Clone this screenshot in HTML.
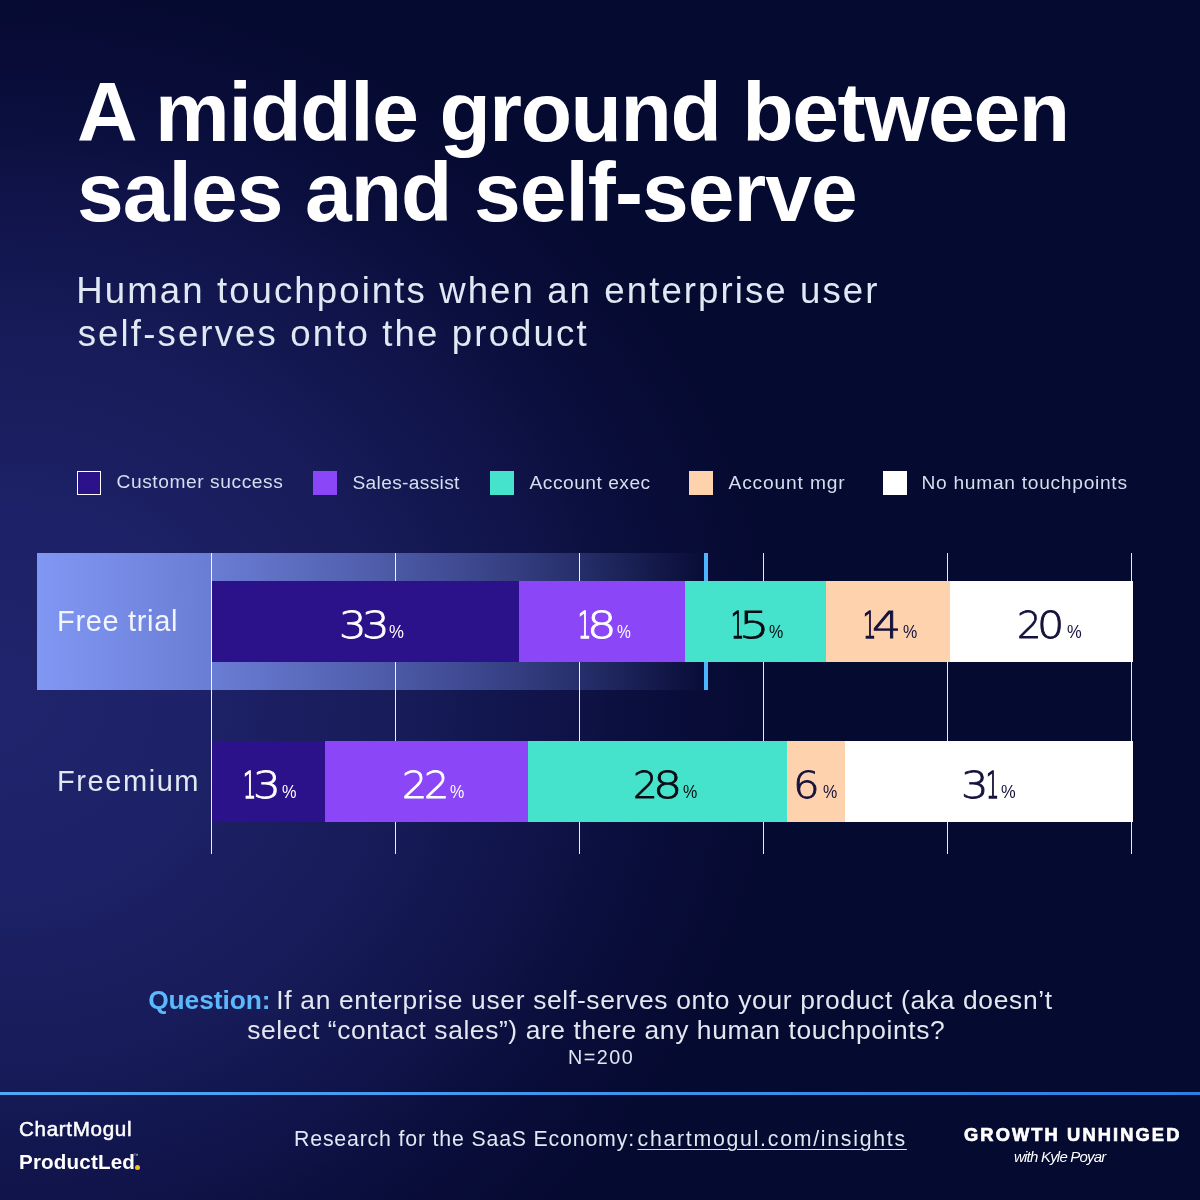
<!DOCTYPE html>
<html lang="en"><head><meta charset="utf-8"><title>A middle ground between sales and self-serve</title>
<style>
html,body{margin:0;padding:0;}
body{width:1200px;height:1200px;overflow:hidden;position:relative;font-family:"Liberation Sans", sans-serif;background:#050a30 radial-gradient(ellipse 800px 730px at 0px 700px,#20246c 0%,#1d2167 25%,#181c5a 48%,#10144a 68%,#090d39 84%,#050a30 100%);}
h1,p{margin:0;font:inherit;}
.t{position:absolute;white-space:pre;margin:0;transform-origin:0 0;}
.n{font-family:"DejaVu Sans Light","DejaVu Sans","Liberation Sans",sans-serif;font-weight:200;}
.s{position:absolute;}
</style></head><body>
<header>
<h1 class="title"><span class="t" style="left:77.00px;top:61.80px;font-size:84px;line-height:101px;font-weight:700;color:#ffffff;letter-spacing:-1.386px;">A middle ground between</span><span class="t" style="left:77.00px;top:141.80px;font-size:84px;line-height:101px;font-weight:700;color:#ffffff;letter-spacing:-0.932px;">sales and self-serve</span></h1>
<p class="subtitle"><span class="t" style="left:76.30px;top:269.00px;font-size:36.6px;line-height:44px;color:#dfe8f3;letter-spacing:2.085px;">Human touchpoints when an enterprise user</span><span class="t" style="left:77.70px;top:311.50px;font-size:36.6px;line-height:44px;color:#dfe8f3;letter-spacing:2.133px;">self-serves onto the product</span></p>
</header>
<section class="legend">
<div class="s swatch" style="left:77px;top:471px;width:24px;height:24px;background:#2b128a;box-sizing:border-box;border:1px solid #fff;"></div>
<div class="s swatch" style="left:313px;top:471px;width:24px;height:24px;background:#8b46f8;"></div>
<div class="s swatch" style="left:490px;top:471px;width:24px;height:24px;background:#46e3cc;"></div>
<div class="s swatch" style="left:689px;top:471px;width:24px;height:24px;background:#ffd2ae;"></div>
<div class="s swatch" style="left:883px;top:471px;width:24px;height:24px;background:#fff;"></div>
<span class="t" style="left:116.50px;top:470.10px;font-size:19.2px;line-height:23px;color:#d6dfef;letter-spacing:0.567px;">Customer success</span>
<span class="t" style="left:352.50px;top:471.10px;font-size:19.2px;line-height:23px;color:#d6dfef;letter-spacing:0.318px;">Sales-assist</span>
<span class="t" style="left:529.50px;top:471.10px;font-size:19.2px;line-height:23px;color:#d6dfef;letter-spacing:0.500px;">Account exec</span>
<span class="t" style="left:728.50px;top:471.10px;font-size:19.2px;line-height:23px;color:#d6dfef;letter-spacing:0.850px;">Account mgr</span>
<span class="t" style="left:921.50px;top:471.10px;font-size:19.2px;line-height:23px;color:#d6dfef;letter-spacing:0.711px;">No human touchpoints</span>
</section>
<section class="chart">
<div class="s band" style="left:37px;top:553px;width:669px;height:137px;background:linear-gradient(90deg,rgba(128,151,243,1) 0%,rgba(128,151,243,0.78) 26%,rgba(128,151,243,0.5) 53%,rgba(128,151,243,0.22) 81%,rgba(128,151,243,0) 100%);"></div>
<div class="s grid" style="left:211px;top:553px;width:1px;height:301px;background:rgba(255,255,255,0.92);"></div>
<div class="s grid" style="left:395px;top:553px;width:1px;height:301px;background:rgba(255,255,255,0.92);"></div>
<div class="s grid" style="left:579px;top:553px;width:1px;height:301px;background:rgba(255,255,255,0.92);"></div>
<div class="s grid" style="left:763px;top:553px;width:1px;height:301px;background:rgba(255,255,255,0.92);"></div>
<div class="s grid" style="left:947px;top:553px;width:1px;height:301px;background:rgba(255,255,255,0.92);"></div>
<div class="s grid" style="left:1131px;top:553px;width:1px;height:301px;background:rgba(255,255,255,0.92);"></div>
<div class="s marker" style="left:704px;top:553px;width:4px;height:137px;background:#4db5fb;"></div>
<div class="s bar" style="left:212px;top:581px;width:307px;height:81px;background:#2b128a;"></div>
<div class="s bar" style="left:519px;top:581px;width:165.5px;height:81px;background:#8b46f8;"></div>
<div class="s bar" style="left:684.5px;top:581px;width:141.5px;height:81px;background:#46e3cc;"></div>
<div class="s bar" style="left:826px;top:581px;width:124px;height:81px;background:#ffd2ae;"></div>
<div class="s bar" style="left:950px;top:581px;width:183px;height:81px;background:#fff;"></div>
<div class="s bar" style="left:212px;top:741px;width:113px;height:81px;background:#2b128a;"></div>
<div class="s bar" style="left:325px;top:741px;width:203px;height:81px;background:#8b46f8;"></div>
<div class="s bar" style="left:528px;top:741px;width:259px;height:81px;background:#46e3cc;"></div>
<div class="s bar" style="left:787px;top:741px;width:58px;height:81px;background:#ffd2ae;"></div>
<div class="s bar" style="left:845px;top:741px;width:288px;height:81px;background:#fff;"></div>
<span class="t" style="left:57.00px;top:604.00px;font-size:29px;line-height:35px;color:#f2f5ff;letter-spacing:0.667px;">Free trial</span>
<span class="t" style="left:57.00px;top:764.00px;font-size:29px;line-height:35px;color:#dfe8f3;letter-spacing:1.571px;">Freemium</span>
<span class="num"><span class="t n" style="left:339.44px;top:602.60px;font-size:37.6px;line-height:45px;font-weight:200;color:#ffffff;transform:scaleX(1.153);-webkit-text-stroke:0.8px;">3</span><span class="t n" style="left:362.04px;top:602.60px;font-size:37.6px;line-height:45px;font-weight:200;color:#ffffff;transform:scaleX(1.153);-webkit-text-stroke:0.8px;">3</span><span class="t" style="left:389.09px;top:620.60px;font-size:18.5px;line-height:22px;color:#ffffff;transform:scaleX(0.907);">%</span></span>
<span class="num"><span class="t n" style="left:577.80px;top:602.60px;font-size:37.6px;line-height:45px;font-weight:200;color:#ffffff;transform:scaleX(0.550);-webkit-text-stroke:1.5px;">1</span><span class="t n" style="left:587.19px;top:602.60px;font-size:37.6px;line-height:45px;font-weight:200;color:#ffffff;transform:scaleX(1.235);-webkit-text-stroke:0.8px;">8</span><span class="t" style="left:617.16px;top:620.60px;font-size:18.5px;line-height:22px;color:#ffffff;transform:scaleX(0.840);">%</span></span>
<span class="num"><span class="t n" style="left:730.80px;top:602.60px;font-size:37.6px;line-height:45px;font-weight:200;color:#0a0a14;transform:scaleX(0.550);-webkit-text-stroke:1.5px;">1</span><span class="t n" style="left:739.00px;top:602.60px;font-size:37.6px;line-height:45px;font-weight:200;color:#0a0a14;transform:scaleX(1.275);-webkit-text-stroke:0.8px;">5</span><span class="t" style="left:769.13px;top:620.60px;font-size:18.5px;line-height:22px;color:#0a0a14;transform:scaleX(0.867);">%</span></span>
<span class="num"><span class="t n" style="left:863.20px;top:602.60px;font-size:37.6px;line-height:45px;font-weight:200;color:#14123c;transform:scaleX(0.550);-webkit-text-stroke:1.5px;">1</span><span class="t n" style="left:872.46px;top:602.60px;font-size:37.6px;line-height:45px;font-weight:200;color:#14123c;transform:scaleX(1.221);-webkit-text-stroke:0.8px;">4</span><span class="t" style="left:902.73px;top:620.60px;font-size:18.5px;line-height:22px;color:#14123c;transform:scaleX(0.867);">%</span></span>
<span class="num"><span class="t n" style="left:1017.06px;top:602.60px;font-size:37.6px;line-height:45px;font-weight:200;color:#14123c;transform:scaleX(1.022);-webkit-text-stroke:0.8px;">2</span><span class="t n" style="left:1037.07px;top:602.60px;font-size:37.6px;line-height:45px;font-weight:200;color:#14123c;transform:scaleX(1.144);-webkit-text-stroke:0.8px;">0</span><span class="t" style="left:1066.71px;top:620.60px;font-size:18.5px;line-height:22px;color:#14123c;transform:scaleX(0.893);">%</span></span>
<span class="num"><span class="t n" style="left:243.20px;top:762.60px;font-size:37.6px;line-height:45px;font-weight:200;color:#ffffff;transform:scaleX(0.550);-webkit-text-stroke:1.5px;">1</span><span class="t n" style="left:252.61px;top:762.60px;font-size:37.6px;line-height:45px;font-weight:200;color:#ffffff;transform:scaleX(1.165);-webkit-text-stroke:0.8px;">3</span><span class="t" style="left:281.52px;top:780.60px;font-size:18.5px;line-height:22px;color:#ffffff;transform:scaleX(0.880);">%</span></span>
<span class="num"><span class="t n" style="left:401.99px;top:762.60px;font-size:37.6px;line-height:45px;font-weight:200;color:#ffffff;transform:scaleX(1.056);-webkit-text-stroke:0.8px;">2</span><span class="t n" style="left:424.39px;top:762.60px;font-size:37.6px;line-height:45px;font-weight:200;color:#ffffff;transform:scaleX(1.056);-webkit-text-stroke:0.8px;">2</span><span class="t" style="left:449.73px;top:780.60px;font-size:18.5px;line-height:22px;color:#ffffff;transform:scaleX(0.867);">%</span></span>
<span class="num"><span class="t n" style="left:632.83px;top:762.60px;font-size:37.6px;line-height:45px;font-weight:200;color:#0a0a14;transform:scaleX(1.033);-webkit-text-stroke:0.8px;">2</span><span class="t n" style="left:653.43px;top:762.60px;font-size:37.6px;line-height:45px;font-weight:200;color:#0a0a14;transform:scaleX(1.224);-webkit-text-stroke:0.8px;">8</span><span class="t" style="left:682.73px;top:780.60px;font-size:18.5px;line-height:22px;color:#0a0a14;transform:scaleX(0.867);">%</span></span>
<span class="num"><span class="t n" style="left:793.03px;top:762.60px;font-size:37.6px;line-height:45px;font-weight:200;color:#14123c;transform:scaleX(1.118);-webkit-text-stroke:0.8px;">6</span><span class="t" style="left:822.73px;top:780.60px;font-size:18.5px;line-height:22px;color:#14123c;transform:scaleX(0.867);">%</span></span>
<span class="num"><span class="t n" style="left:961.44px;top:762.60px;font-size:37.6px;line-height:45px;font-weight:200;color:#14123c;transform:scaleX(1.153);-webkit-text-stroke:0.8px;">3</span><span class="t n" style="left:986.20px;top:762.60px;font-size:37.6px;line-height:45px;font-weight:200;color:#14123c;transform:scaleX(0.550);-webkit-text-stroke:1.5px;">1</span><span class="t" style="left:1000.71px;top:780.60px;font-size:18.5px;line-height:22px;color:#14123c;transform:scaleX(0.893);">%</span></span>
</section>
<section class="note">
<p class="question"><span class="t" style="left:148.20px;top:983.70px;font-size:26.4px;line-height:32px;font-weight:700;color:#5bb9fb;letter-spacing:-0.112px;">Question:</span><span class="t" style="left:276.30px;top:983.70px;font-size:26.4px;line-height:32px;color:#e3e8f0;letter-spacing:0.673px;">If an enterprise user self-serves onto your product (aka doesn’t</span><span class="t" style="left:247.30px;top:1014.20px;font-size:26.4px;line-height:32px;color:#e3e8f0;letter-spacing:0.598px;">select “contact sales”) are there any human touchpoints?</span></p>
<span class="t" style="left:568.00px;top:1044.75px;font-size:19.8px;line-height:24px;color:#dfe8f3;letter-spacing:1.500px;">N=200</span>
</section>
<footer>
<div class="s rule" style="left:0px;top:1092px;width:1200px;height:3px;background:linear-gradient(90deg,#4fa9f7,#2f7fe0);"></div>
<div class="s dot" style="left:135px;top:1164.5px;width:5px;height:5px;background:#f7c21c;border-radius:50%;"></div>
<div class="logos"><span class="t" style="left:19.00px;top:1116.25px;font-size:20.6px;line-height:25px;color:#ffffff;letter-spacing:0.667px;-webkit-text-stroke:0.5px;">ChartMogul</span><span class="t" style="left:19.00px;top:1149.25px;font-size:20.6px;line-height:25px;font-weight:700;color:#ffffff;letter-spacing:0.167px;">ProductLed</span><span class="t" style="left:133.50px;top:1152.00px;font-size:5px;line-height:6px;color:#c9cfe6;">™</span></div>
<div class="source"><span class="t" style="left:294.00px;top:1125.75px;font-size:21.3px;line-height:26px;color:#dfe8f3;letter-spacing:0.828px;">Research for the SaaS Economy:</span><span class="t" style="left:637.50px;top:1125.75px;font-size:21.3px;line-height:26px;color:#dfe8f3;letter-spacing:1.727px;text-decoration:underline;text-decoration-thickness:1.2px;text-underline-offset:2.5px;">chartmogul.com/insights</span></div>
<div class="growth-unhinged"><span class="t" style="left:964.00px;top:1124.00px;font-size:18.3px;line-height:22px;font-weight:700;color:#ffffff;letter-spacing:2.107px;-webkit-text-stroke:0.7px;">GROWTH UNHINGED</span><span class="t" style="left:1014.00px;top:1147.50px;font-size:15px;line-height:18px;font-style:italic;color:#ffffff;letter-spacing:-0.786px;">with Kyle Poyar</span></div>
</footer>
</body></html>
